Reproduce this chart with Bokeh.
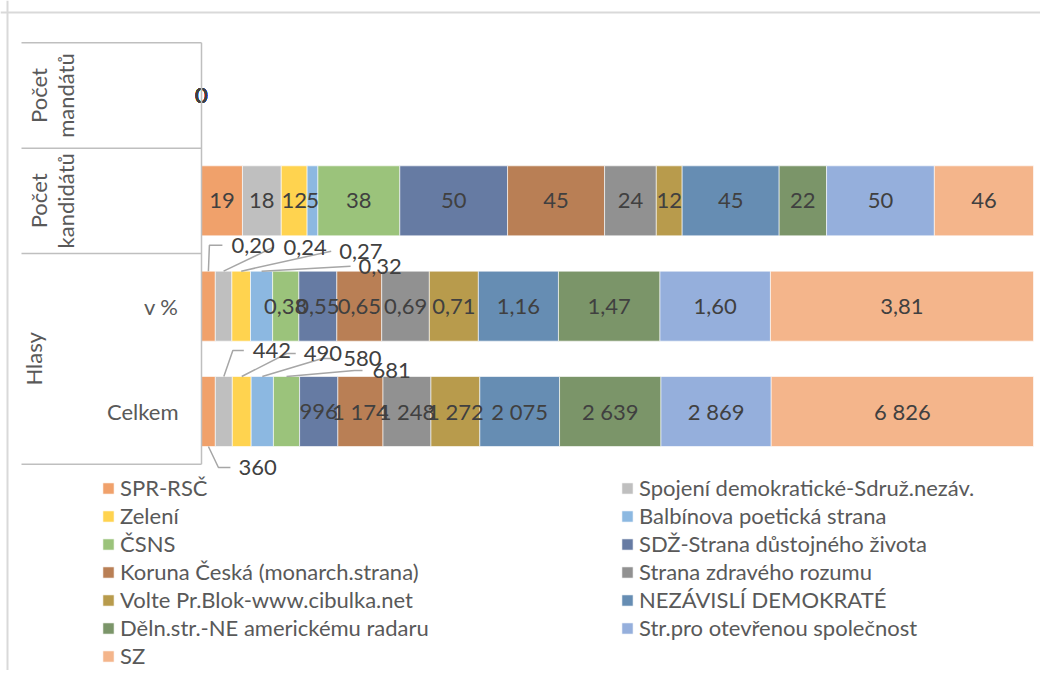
import numpy as np
from bokeh.plotting import figure
from bokeh.models import Legend, LegendItem, Span
from bokeh.core.properties import value
from bokeh.embed import file_html
from bokeh.resources import INLINE

# ---------------- data ----------------
categories = [("Hlasy", "Celkem"), ("Hlasy", "v %"),
              ("Počet kandidátů", ""), ("Počet mandátů", "")]
parties = ["SPR-RSČ", "Spojení demokratické-Sdruž.nezáv.", "Zelení",
           "Balbínova poetická strana", "ČSNS", "SDŽ-Strana důstojného života",
           "Koruna Česká (monarch.strana)", "Strana zdravého rozumu",
           "Volte Pr.Blok-www.cibulka.net", "NEZÁVISLÍ DEMOKRATÉ",
           "Děln.str.-NE americkému radaru", "Str.pro otevřenou společnost", "SZ"]
hlasy_celkem = [360, 442, 490, 580, 681, 996, 1174, 1248, 1272, 2075, 2639, 2869, 6826]
hlasy_pct = [0.20, 0.24, 0.27, 0.32, 0.38, 0.55, 0.65, 0.69, 0.71, 1.16, 1.47, 1.60, 3.81]
kandidati = [19, 18, 12, 5, 38, 50, 45, 24, 12, 45, 22, 50, 46]
mandaty = [0, 0, 0, 0, 0, 0, 0, 0, 0, 0, 0, 0, 0]
colors = ["#F0A16B", "#BFBFBF", "#FFD34F", "#8CB8E1", "#9BC37B", "#667BA3",
          "#B97F55", "#919191", "#B89B4C", "#668DB3", "#7B9569", "#95AFDC", "#F4B58B"]

# ---------------- layout (px) ----------------
W, H = 1040, 670
X0_PX = 201          # x of value 0 inside figure
PX_X = 832           # px per 100 %
Y0_PX = 411          # y of first category centre inside figure
PX_Y = 105.33        # px per category
BAR_H = 70 / PX_Y
FONT = value("Lato")
FS = "22px"

def fx(px):  # figure px -> data x
    return (px - X0_PX) / PX_X

def fy(py):  # figure px -> data y
    return (Y0_PX - py) / PX_Y

p = figure(width=W, height=H, output_backend="svg", toolbar_location=None,
           x_range=(fx(0), fx(W)), y_range=(fy(H), fy(0)),
           x_axis_location=None, y_axis_location=None, min_border=0,
           background_fill_color="white", border_fill_color="white")
p.grid.visible = False
p.outline_line_color = None

# chart border
p.add_layout(Span(location=fy(12), dimension="width", line_color="#D9D9D9", line_width=2))
p.add_layout(Span(location=fx(7), dimension="height", line_color="#D9D9D9", line_width=2))

rows = np.array([hlasy_celkem, hlasy_pct, kandidati, mandaty], dtype=float)
sums = rows.sum(axis=1, keepdims=True)
frac = np.divide(rows, sums, out=np.zeros_like(rows), where=sums > 0)
right = np.cumsum(frac, axis=1)
left = right - frac
ys = np.arange(len(categories), dtype=float)

def fmt(r, v):
    if r == 1:
        return f"{v:.2f}".replace(".", ",")
    return f"{int(v):,}".replace(",", " ")

renderers = []
for j, name in enumerate(parties):
    r = p.hbar(y=ys, left=left[:, j], right=right[:, j], height=BAR_H,
               fill_color=colors[j], line_color="white", line_width=0.6)
    renderers.append(r)

# outside labels with leader lines: (row, series) -> (edge, elbow_dx, elbow_dy, end_dx, label_dx)
outside = {
    (0, 0): ("bottom", 10, 21, 22, 30),
    (0, 1): ("top", 9, -26, 20, 29),
    (0, 2): ("top", 45, -23, 54, 62),
    (0, 3): ("top", 60, -18, 72, 81),
    (0, 4): ("top", 68, -6, 76, 86),
    (1, 0): ("top", 1, -26, 14, 23),
    (1, 1): ("top", 50, -24, 50, 60),
    (1, 2): ("top", 90, -20, 90, 98),
    (1, 3): ("top", 89, -5, 89, 97),
}

in_x, in_y, in_t = [], [], []
out_x, out_y, out_t = [], [], []
lx, ly = [], []
for i in range(len(categories)):
    for j in range(len(parties)):
        cx = (left[i, j] + right[i, j]) / 2
        txt = fmt(i, rows[i, j])
        if (i, j) in outside:
            edge, edx, edy, endx, labx = outside[(i, j)]
            sy = ys[i] + (BAR_H / 2 if edge == "top" else -BAR_H / 2)
            ey = sy - edy / PX_Y
            lx.append([cx, cx + edx / PX_X, cx + endx / PX_X])
            ly.append([sy, ey, ey])
            out_x.append(cx + labx / PX_X)
            out_y.append(ey)
            out_t.append(txt)
        else:
            in_x.append(cx); in_y.append(ys[i]); in_t.append(txt)

p.multi_line(xs=lx, ys=ly, line_color="#A6A6A6", line_width=1.5)
p.text(x=in_x, y=in_y, text=in_t, text_font=FONT, text_font_size=FS,
       text_color="#404040", text_align="center", text_baseline="middle")
p.text(x=out_x, y=out_y, text=out_t, text_font=FONT, text_font_size=FS,
       text_color="#404040", text_align="left", text_baseline="middle")

# ---------------- category axis (multi-level) ----------------
AX_C = "#BFBFBF"
lo, hi = ys[0] - 0.5, ys[-1] + 0.5
p.segment(x0=[0], y0=[lo], x1=[0], y1=[hi], line_color=AX_C, line_width=1.5)
groups = []
for i, (g, s) in enumerate(categories):
    if groups and groups[-1][0] == g:
        groups[-1][2] = i
    else:
        groups.append([g, i, i])
bounds = [lo] + [ys[g[2]] + 0.5 for g in groups]
p.segment(x0=[fx(21)] * len(bounds), y0=bounds, x1=[0] * len(bounds), y1=bounds,
          line_color=AX_C, line_width=1.5)
inner = [(ys[i], s) for i, (g, s) in enumerate(categories) if s]
p.text(x=[fx(178)] * len(inner), y=[a for a, _ in inner], text=[b for _, b in inner],
       text_font=FONT, text_font_size=FS, text_color="#595959",
       text_align="right", text_baseline="middle")
gx = [fx(33) if (g[2] > g[1]) else fx(51) for g in groups]
gy = [(ys[g[1]] + ys[g[2]]) / 2 for g in groups]
gt = [g[0].replace(" ", "\n") for g in groups]
p.text(x=gx, y=gy, text=gt, angle=np.pi / 2, text_font=FONT, text_font_size=FS,
       text_color="#595959", text_align="center", text_baseline="middle",
       text_line_height=1.0)

# ---------------- legend ----------------
def make_legend(idx, x, y):
    items = [LegendItem(label=parties[k], renderers=[renderers[k]]) for k in idx]
    lg = Legend(items=items, location=(x, y), orientation="vertical",
                label_text_font="Lato", label_text_font_size=FS,
                label_text_color="#595959", glyph_width=14, glyph_height=14,
                label_height=20, spacing=1, padding=0, margin=0,
                label_standoff=5, border_line_color=None,
                background_fill_alpha=0)
    p.add_layout(lg)

make_legend(list(range(0, 13, 2)), 101, H - 669)
make_legend(list(range(1, 13, 2)), 620, H - 641)

open("out.html", "w").write(file_html(p, INLINE))
